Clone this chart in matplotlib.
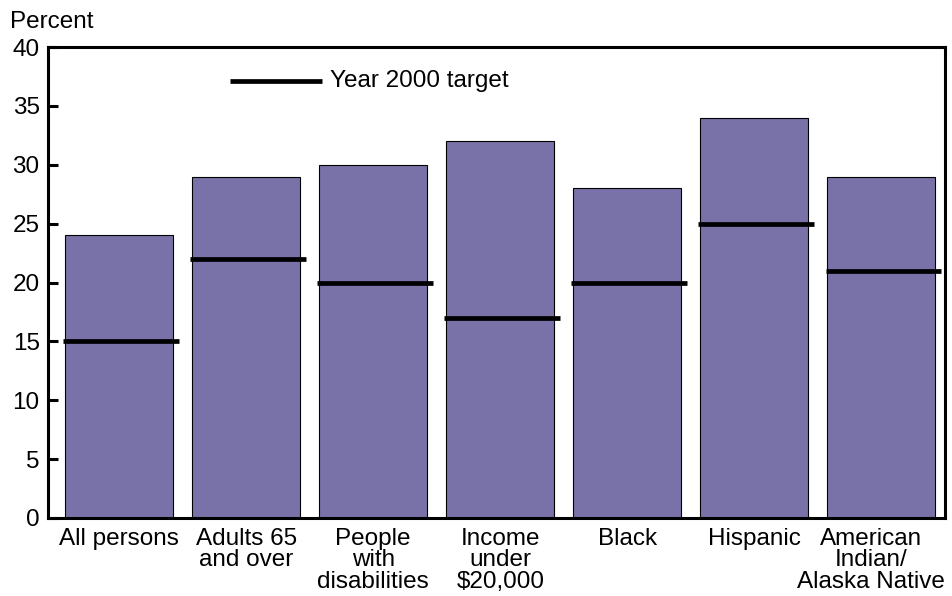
import matplotlib

matplotlib.use("Agg")

import matplotlib.pyplot as plt
import matplotlib.transforms as mtransforms
import numpy as np

plt.rcParams["font.family"] = ["Liberation Sans", "DejaVu Sans"]

categories = [
    "All persons",
    "Adults 65\nand over",
    "People\nwith\ndisabilities",
    "Income\nunder\n$20,000",
    "Black",
    "Hispanic",
    "American\nIndian/\nAlaska Native",
]
percent = [24, 29, 30, 32, 28, 34, 29]
target_2000 = [15, 22, 20, 17, 20, 25, 21]
y_ticks = [0, 5, 10, 15, 20, 25, 30, 35, 40]

bar_color = "#7872a8"
bar_width = 0.85

fig = plt.figure(figsize=(9.52, 5.96), dpi=100)
ax = fig.add_axes([0.0504, 0.1309, 0.9422, 0.7902])

x = np.arange(len(categories))
ax.bar(x, percent, width=bar_width, color=bar_color, edgecolor="black",
       linewidth=0.8, zorder=2)
ax.hlines(target_2000, x - 0.44, x + 0.47, color="black", linewidth=3.4,
          zorder=3)

ax.set_xlim(-0.56, 6.5)
ax.set_ylim(0, 40)
ax.set_yticks(y_ticks)
ax.set_xticks(x)
ax.set_xticklabels(categories, fontsize=17.5, linespacing=0.98)
ax.tick_params(axis="x", length=0, pad=7)
ax.tick_params(axis="y", direction="in", length=7, width=2.2, labelsize=17.5,
               pad=6)

# the last label is wide; nudge it left so it stays inside the figure
last = ax.get_xticklabels()[-1]
last.set_transform(last.get_transform() +
                   mtransforms.ScaledTranslation(-10 / 100, 0,
                                                 fig.dpi_scale_trans))

for spine in ax.spines.values():
    spine.set_linewidth(2.2)

fig.text(0.010, 0.963, "Percent", fontsize=17.5, ha="left", va="center")

# legend sample for the target line
ax.plot([0.874, 1.6], [37.1, 37.1], color="black", linewidth=3.4,
        solid_capstyle="butt", clip_on=False)
ax.text(1.66, 37.1, "Year 2000 target", fontsize=17.5, ha="left",
        va="center")

fig.savefig("out.png", dpi=100)
